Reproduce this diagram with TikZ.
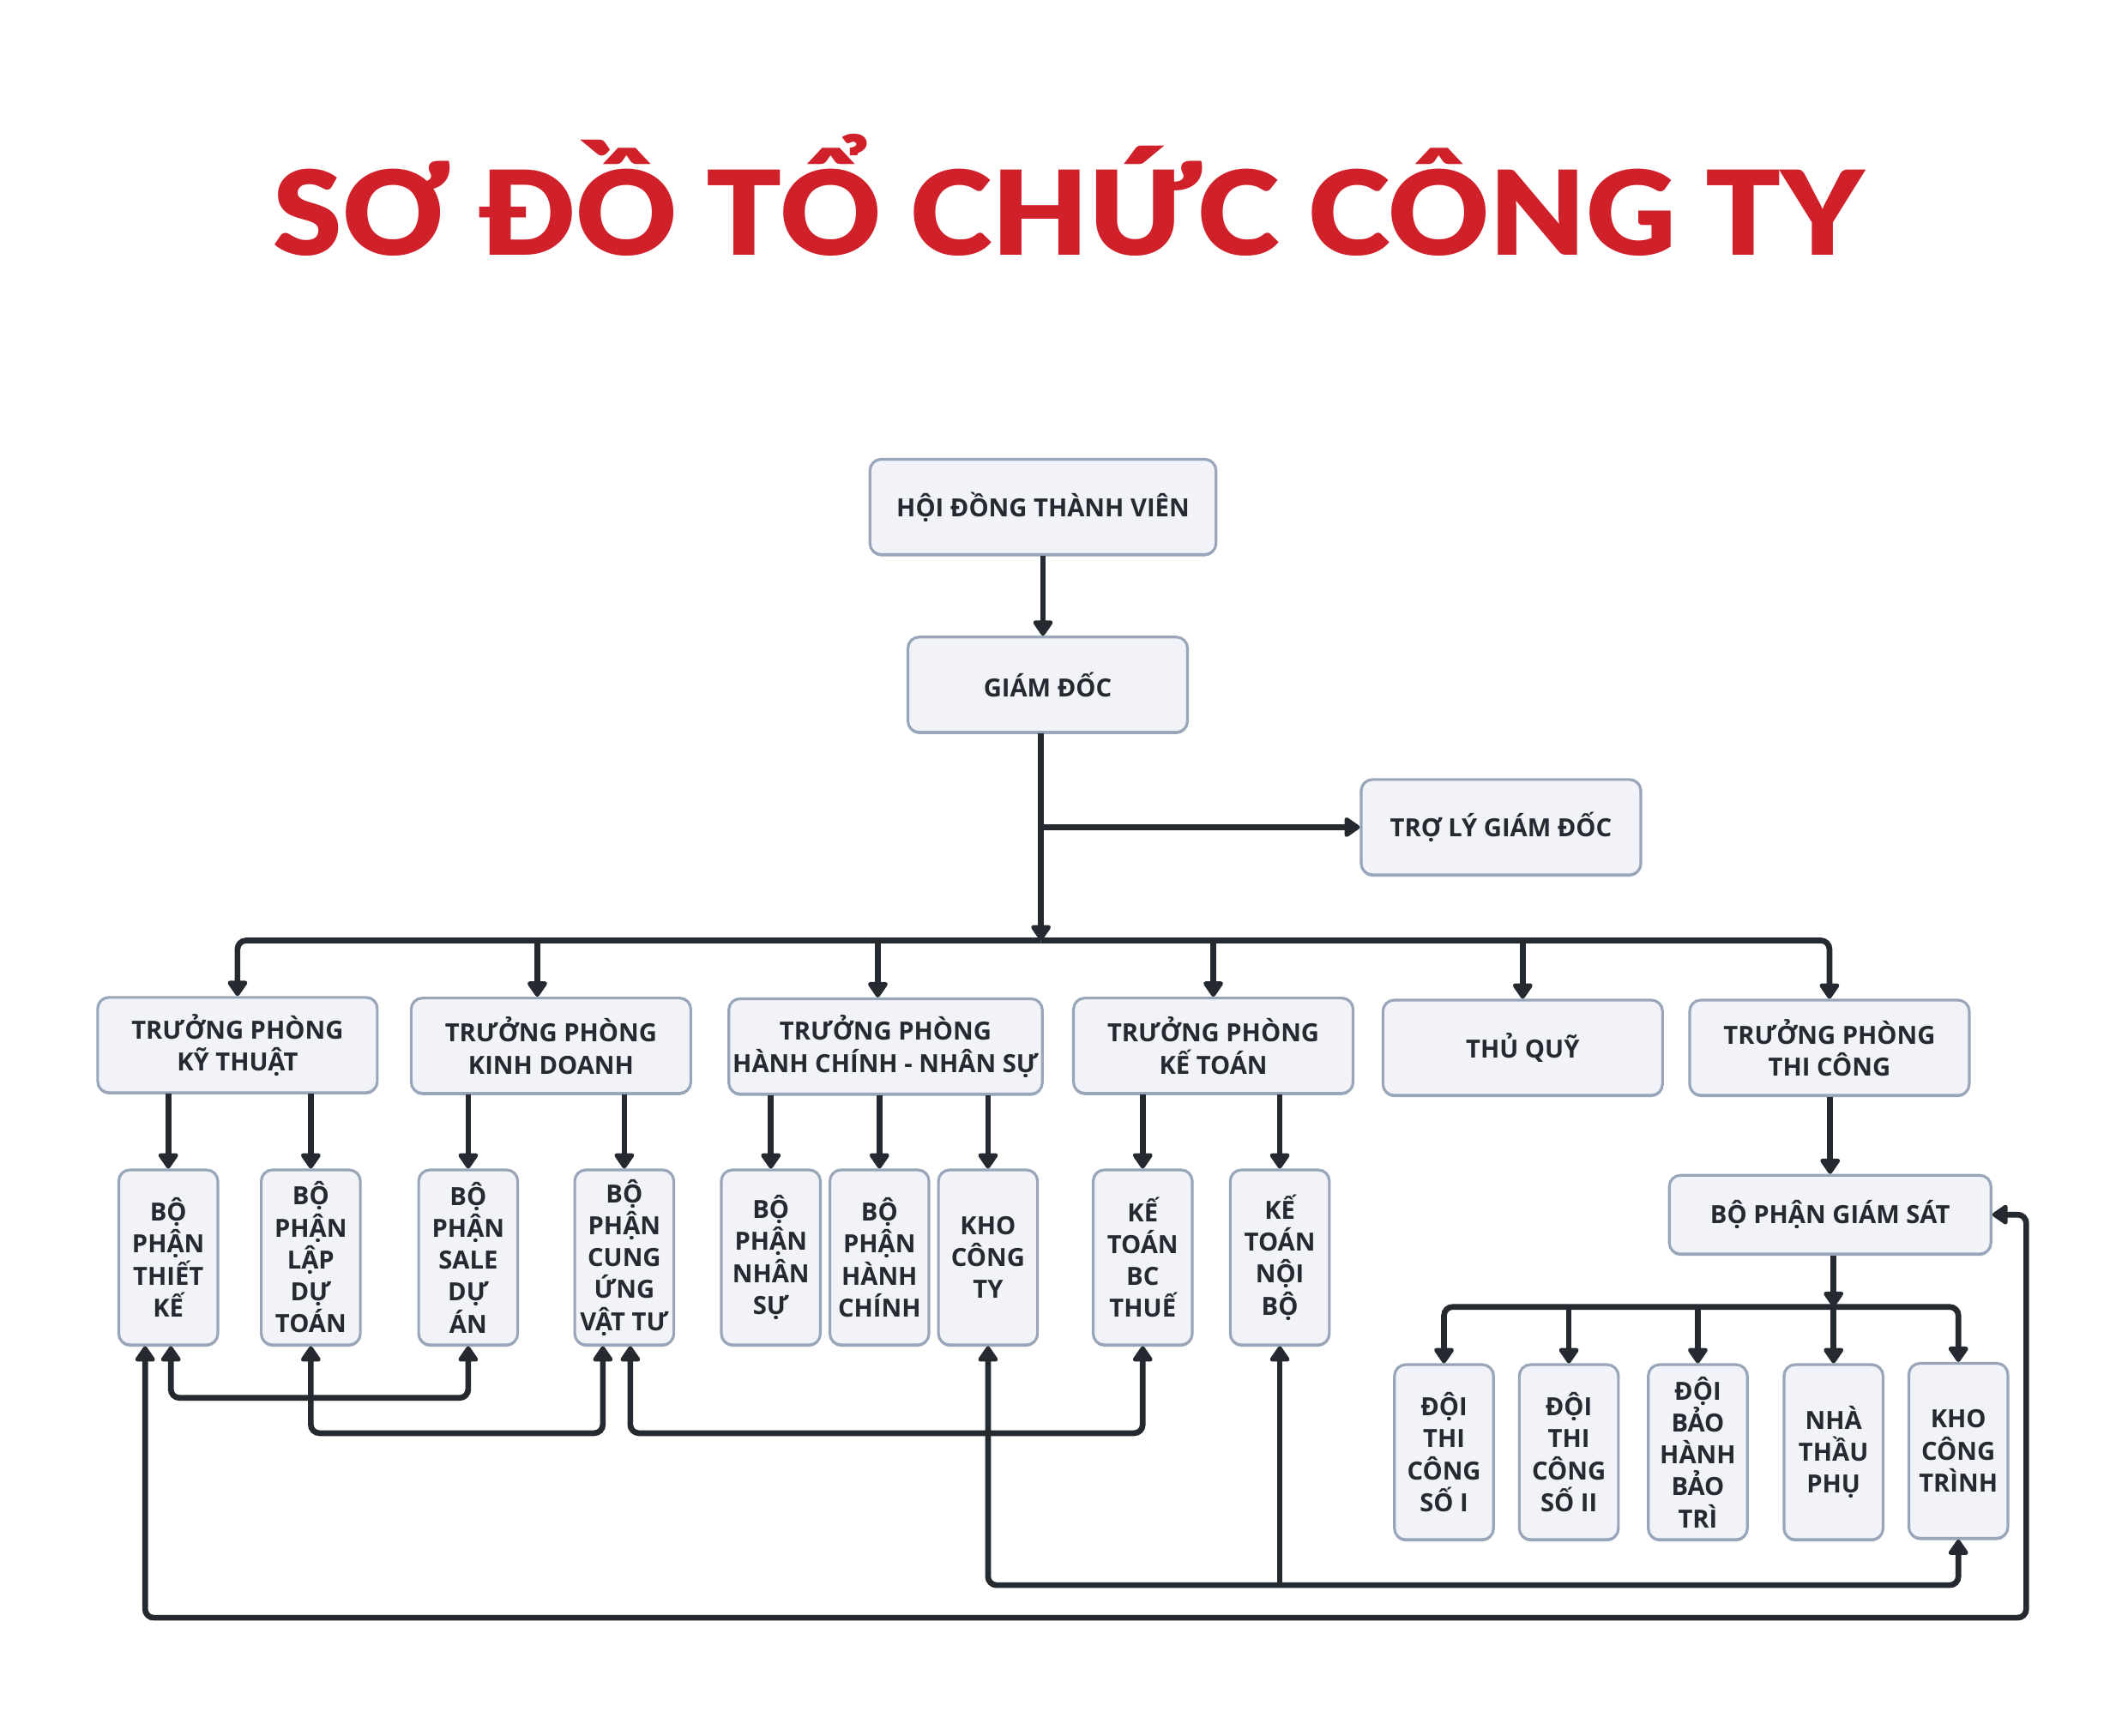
\documentclass[tikz,border=0pt]{standalone}
\usepackage{fontspec}
\setmainfont{Open Sans}
\newfontfamily\titlefont{Lato Black}
\usetikzlibrary{arrows.meta}
\usetikzlibrary{shadows}
\definecolor{boxfill}{HTML}{F1F3F8}
\definecolor{boxline}{HTML}{99A5B8}
\definecolor{ink}{HTML}{252930}
\definecolor{titlered}{HTML}{D02029}
\newcommand{\Ttp}{TRƯỞNG PHÒNG}
\newcommand{\Tbp}{BỘ\\PHẬN}
\tikzstyle{deptbox} = [rectangle, rounded corners=0.13cm, fill=boxfill, draw=boxline, line width=0.9pt, text=ink, align=center, inner sep=2pt, minimum width=3.26cm, minimum height=1.11cm, font=\bfseries\fontsize{8.3}{10.6}\selectfont, drop shadow={shadow xshift=0pt, shadow yshift=-0.6pt, fill=boxline, opacity=1}]
\tikzstyle{unitbox} = [deptbox, inner xsep=1pt, minimum width=1.155cm, minimum height=2.04cm]
\tikzstyle{conn} = [draw=ink, line width=1.9pt, rounded corners=0.1cm, -{Triangle[length=0.2cm, width=0.26cm, round]}]
\tikzstyle{bothconn} = [conn, {Triangle[length=0.2cm, width=0.26cm, round]}-{Triangle[length=0.2cm, width=0.26cm, round]}]

\begin{document}
\begin{tikzpicture}[x=0.015823cm, y=-0.015823cm]
\path[use as bounding box, fill=white] (0,0) rectangle (1568,1279);

% Title
\node[anchor=base, text=titlered, font=\titlefont\fontsize{38.8}{40}\selectfont] (title) at (787.5,188) {\scalebox{1.065}[1]{SƠ ĐỒ TỔ CHỨC CÔNG TY}};

% Define nodes
\node[deptbox, minimum width=4.035cm]           (hdtv)   at (768.5,373.5) {HỘI ĐỒNG THÀNH VIÊN};
\node[deptbox]                                  (gd)     at (772,504.5)   {GIÁM ĐỐC};
\node[deptbox]                                  (trogd)  at (1106,609.5)  {TRỢ LÝ GIÁM ĐỐC};

\node[deptbox]                                  (tpkt)   at (175,770)     {\Ttp\\KỸ THUẬT};
\node[deptbox]                                  (tpkd)   at (406,770.5)   {\Ttp\\KINH DOANH};
\node[deptbox, inner xsep=1pt, minimum width=3.655cm] (tphc) at (652.5,771) {\Ttp\\HÀNH CHÍNH - NHÂN SỰ};
\node[deptbox]                                  (tpkto)  at (894,770.5)   {\Ttp\\KẾ TOÁN};
\node[deptbox]                                  (thuquy) at (1122,772)    {THỦ QUỸ};
\node[deptbox]                                  (tptc)   at (1348,772)    {\Ttp\\THI CÔNG};

\node[unitbox]                                  (bptk)   at (124,926.5)   {\Tbp\\THIẾT\\KẾ};
\node[unitbox]                                  (bpdt)   at (229,926.5)   {\Tbp\\LẬP\\DỰ\\TOÁN};
\node[unitbox]                                  (bpsale) at (345,926.5)   {\Tbp\\SALE\\DỰ\\ÁN};
\node[unitbox]                                  (bpcu)   at (460,926.5)   {\Tbp\\CUNG\\ỨNG\\VẬT TƯ};
\node[unitbox]                                  (bpns)   at (568,926.5)   {\Tbp\\NHÂN\\SỰ};
\node[unitbox]                                  (bphc)   at (648,926.5)   {\Tbp\\HÀNH\\CHÍNH};
\node[unitbox]                                  (khocty) at (728,926.5)   {KHO\\CÔNG\\TY};
\node[unitbox]                                  (ktbc)   at (842,926.5)   {KẾ\\TOÁN\\BC\\THUẾ};
\node[unitbox]                                  (ktnb)   at (943,926.5)   {KẾ\\TOÁN\\NỘI\\BỘ};

\node[deptbox, minimum width=3.75cm, minimum height=0.918cm] (bpgs) at (1348.5,895) {BỘ PHẬN GIÁM SÁT};

\node[unitbox]                                  (dtc1)   at (1064,1070)   {ĐỘI\\THI\\CÔNG\\SỐ I};
\node[unitbox]                                  (dtc2)   at (1156,1070)   {ĐỘI\\THI\\CÔNG\\SỐ II};
\node[unitbox]                                  (dbh)    at (1251,1070)   {ĐỘI\\BẢO\\HÀNH\\BẢO\\TRÌ};
\node[unitbox]                                  (ntp)    at (1351,1070)   {NHÀ\\THẦU\\PHỤ};
\node[unitbox]                                  (khoct)  at (1443,1069)   {KHO\\CÔNG\\TRÌNH};

% Junctions
\coordinate (bus)  at (767,693);
\coordinate (bus2) at (1351,963);
\coordinate (lvlA) at (0,1030);
\coordinate (lvlB) at (0,1056);
\coordinate (lvlC) at (0,1168);
\coordinate (lvlD) at (1493,1192);

% Edges
\draw[conn] (hdtv.south) -- (hdtv.south |- gd.north);
\draw[conn] (bus |- gd.south) -- (bus);
\draw[conn] (bus |- trogd) -- (trogd.west);
\draw[conn] (bus) -| (tpkt);
\draw[conn] (bus) -| (tptc);
\draw[conn] ([xshift=-0.16cm]tpkd.north |- bus) -- ([xshift=-0.16cm]tpkd.north);
\draw[conn] ([xshift=-0.09cm]tphc.north |- bus) -- ([xshift=-0.09cm]tphc.north);
\draw[conn] (tpkto.north |- bus) -- (tpkto.north);
\draw[conn] (thuquy.north |- bus) -- (thuquy.north);

\foreach \p/\c in {tpkt/bptk, tpkt/bpdt, tpkd/bpsale, tpkd/bpcu, tphc/bpns, tphc/bphc, tphc/khocty, tpkto/ktbc, tpkto/ktnb, tptc/bpgs}
  \draw[conn] (\p.south -| \c) -- (\c);

\draw[conn] (bus2 |- bpgs.south) -- (bus2);
\draw[conn] (bus2) -| (dtc1);
\draw[conn] (bus2) -| (khoct);
\draw[conn] (bus2) -- (ntp);
\foreach \c in {dtc2, dbh}
  \draw[conn] (bus2 -| \c) -- (\c);

\draw[bothconn] ([xshift=0.03cm]bptk.south) |- (bpsale.south |- lvlA) -- (bpsale.south);
\draw[bothconn] (bpdt.south) |- ([xshift=-0.25cm]bpcu.south |- lvlB) -- ([xshift=-0.25cm]bpcu.south);
\draw[bothconn] ([xshift=0.07cm]bpcu.south) |- (ktbc.south |- lvlB) -- (ktbc.south);
\draw[bothconn] (khocty.south) |- (khoct.south |- lvlC) -- (khoct.south);
\draw[conn] (ktnb.south |- lvlC) -- (ktnb.south);
\draw[bothconn] ([xshift=-0.27cm]bptk.south) |- (lvlD) |- (bpgs.east);

\end{tikzpicture}
\end{document}
